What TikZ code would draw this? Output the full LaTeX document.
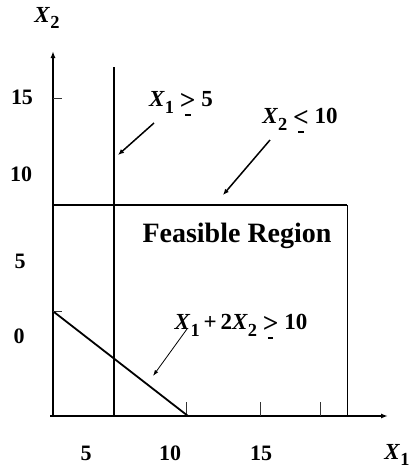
\documentclass[tikz,border=0pt]{standalone}
\usepackage{fontspec}
\setmainfont{Liberation Serif}
\usetikzlibrary{arrows.meta}
\newcommand\sbx[1]{\raisebox{-0.28em}{\scalebox{0.8}{#1}}}
\newcommand\gtu{\ooalign{\raisebox{-0.1em}{\scalebox{1.2}{>}}\cr\hidewidth\raisebox{-0.42em}{\rule{0.24em}{0.09em}}\hidewidth\cr}}
\newcommand\ltu{\ooalign{\raisebox{-0.1em}{\scalebox{1.2}{<}}\cr\hidewidth\raisebox{-0.42em}{\rule{0.24em}{0.09em}}\hidewidth\cr}}
\newcommand\vx{\textbf{\textit{X}}}
\begin{document}
\begin{tikzpicture}[x=1pt,y=-1pt,
  axis/.style={line width=1.8pt,-{Latex[length=7pt,width=5pt]}},
  bound/.style={line width=1.8pt},
  thinbound/.style={line width=1pt},
  tick/.style={line width=0.8pt,black!80},
  lab/.style={font=\fontsize{23}{25}\selectfont\bfseries,inner sep=0pt},
  num/.style={font=\fontsize{22}{24}\selectfont\bfseries,inner sep=0pt},
  pointer/.style={line width=1.5pt,-{Latex[length=6pt,width=5pt]}},
  thinpointer/.style={line width=0.8pt,-{Latex[length=6pt,width=4pt]}}]
\useasboundingbox (0,0) rectangle (409,469);
% coordinates
\coordinate (O) at (53,416);
\coordinate (ytop) at (53,51);
\coordinate (xleft) at (50,416);
\coordinate (xend) at (388,416);
\coordinate (v1) at (114,67);
\coordinate (v2) at (114,416);
\coordinate (h1) at (53,205);
\coordinate (h2) at (347,205);
\coordinate (h3) at (347,416);
\coordinate (d1) at (54,312);
\coordinate (d2) at (188,416);
% axes
\draw[axis] (xleft) -- (xend);
\draw[axis] (O) -- (ytop);
% ticks
\draw[tick] (53,98) -- (62,98);
\draw[tick] (53,311) -- (62,311);
\draw[tick] (186,402) -- (186,416);
\draw[tick] (260,402) -- (260,416);
\draw[tick] (320,402) -- (320,416);
% constraint lines
\draw[bound] (v1) -- (v2);
\draw[bound] (h1) -- (h2);
\draw[thinbound] (h2) -- (h3);
\draw[bound] (d1) -- (d2);
% axis labels
\node[lab] (lx2) at (47,18) {\vx\sbx{2}};
\node[lab] (lx1) at (397,455) {\vx\sbx{1}};
\node[num] (n15) at (22,97) {15};
\node[num] (n10) at (21,174) {10};
\node[num] (n5) at (20,261) {5};
\node[num] (n0) at (19,336) {0};
\node[num] (m5) at (86,453) {5};
\node[num] (m10) at (170,453) {10};
\node[num] (m15) at (261,453) {15};
% constraint labels
\node[lab] (c1) at (181,104) {\vx\sbx{1} \gtu\ 5};
\node[lab] (c2) at (300,121) {\vx\sbx{2} \ltu\ 10};
\node[lab] (c3) at (241,327) {\vx\sbx{1}\,+\,2\vx\sbx{2} \gtu\ 10};
\node[font=\fontsize{28}{30}\selectfont\bfseries,inner sep=0pt] (fr) at (237,236) {Feasible Region};
% pointers
\coordinate (p1) at (154,123);
\coordinate (q1) at (118,155);
\coordinate (p2) at (270,140);
\coordinate (q2) at (223,195);
\coordinate (p3) at (187,329);
\coordinate (q3) at (153,376);
\draw[pointer] (p1) -- (q1);
\draw[pointer] (p2) -- (q2);
\draw[thinpointer] (p3) -- (q3);
\end{tikzpicture}
\end{document}
